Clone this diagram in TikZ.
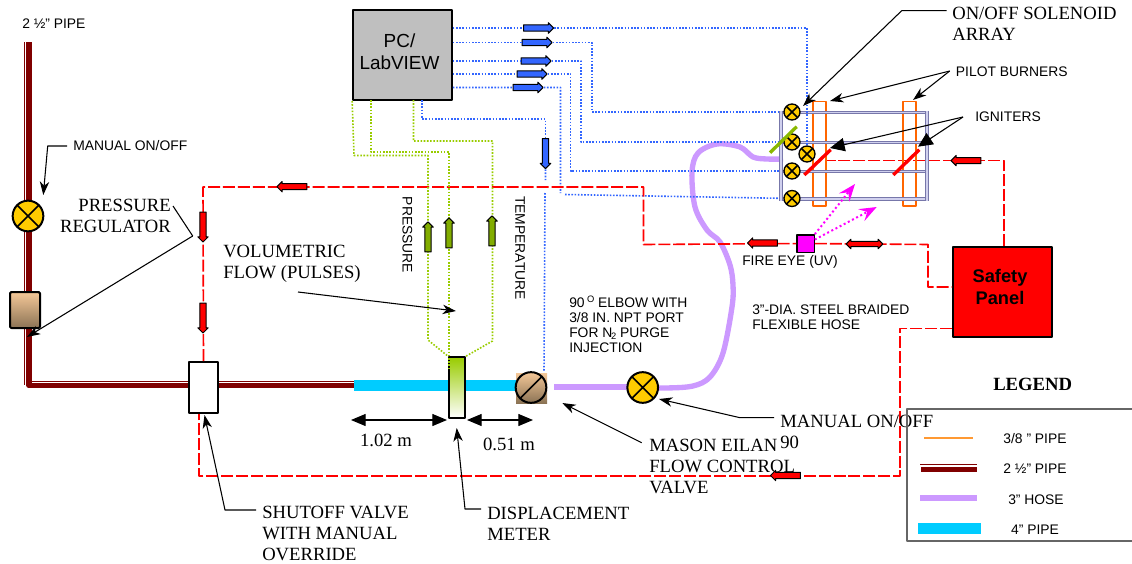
\documentclass[tikz,border=0pt]{standalone}
\usepackage{fontspec}
\setmainfont{Liberation Serif}
\setsansfont{Liberation Sans}
\usetikzlibrary{arrows.meta,shapes.arrows}
\definecolor{pipered}{HTML}{800000}
\definecolor{pipecyan}{HTML}{00CCFF}
\definecolor{hosepurple}{HTML}{CC99FF}
\definecolor{valveyellow}{HTML}{FFCC00}
\definecolor{wireblue}{HTML}{3366FF}
\definecolor{wiregreen}{HTML}{99CC00}
\definecolor{railblue}{HTML}{7777AA}
\definecolor{railin}{HTML}{D0D0EE}
\definecolor{tanlight}{HTML}{F5C898}
\definecolor{tandark}{HTML}{8B7355}
\definecolor{burnerorange}{HTML}{FF6600}
\definecolor{legendorange}{HTML}{FF9933}
\definecolor{eyepink}{HTML}{FF00FF}
\tikzset{
	seriflbl/.style={inner sep=0,font=\rmfamily\fontsize{14}{15.75}\selectfont,align=left},
	sanslbl/.style={inner sep=0,font=\sffamily\fontsize{10.4}{11.25}\selectfont,align=left},
	valve/.style={circle,draw=black,line width=1.5pt,fill=valveyellow,minimum size=23pt,inner sep=0,
		path picture={\draw[line width=1.2pt] (path picture bounding box.north west)--(path picture bounding box.south east) (path picture bounding box.north east)--(path picture bounding box.south west);}},
	solenoid/.style={valve,minimum size=12pt,line width=1pt},
	blockarrow/.style={single arrow,draw=black,line width=.75pt,minimum height=22.5pt,inner sep=0,inner ysep=2pt,single arrow head extend=1.6pt},
	redarrow/.style={blockarrow,fill=red,inner ysep=1.9pt},
	bluearrow/.style={blockarrow,fill=wireblue},
	greenarrow/.style={blockarrow,fill=wiregreen!85!black,rotate=90},
	redline/.style={draw=red,line width=1.2pt,dash pattern=on 9pt off 2.2pt},
	bluewire/.style={draw=wireblue,line width=1.2pt,dash pattern=on 1.2pt off 1.2pt},
	greenwire/.style={draw=wiregreen,line width=1.2pt,dash pattern=on 1.2pt off 1.2pt},
	leader/.style={draw=black,line width=.8pt,-{Stealth[length=10pt,width=7pt,inset=3pt]}},
	bigleader/.style={draw=black,line width=.8pt,-{Stealth[length=11pt,width=10pt,inset=0pt]}},
	dimline/.style={draw=black,line width=.9pt,{Stealth[length=11pt,width=9pt,inset=0pt]}-{Stealth[length=11pt,width=9pt,inset=0pt]}},
	pinkray/.style={draw=eyepink,line width=1.5pt,dash pattern=on 1.5pt off 2pt,-{Stealth[length=13pt,width=10pt,inset=5pt,sep=0pt]}},
	hose/.style={draw=hosepurple,line width=4pt},
	rail/.style={draw=railblue,line width=.8pt,double=railin,double distance=1pt},
	burner/.style={draw=burnerorange,line width=1.2pt}
}
\begin{document}
\begin{tikzpicture}[x=0.75pt,y=-0.75pt,line join=round]
	\useasboundingbox (0,0) rectangle (1132,564);
	
	%places of the valves
	\coordinate (solA) at (792,112);
	\coordinate (solB) at (792,142);
	\coordinate (solC) at (807,154);
	\coordinate (solD) at (792,171);
	\coordinate (solE) at (792,198.5);
	
	%pc and panel
	\node[draw=black,line width=1.5pt,fill=black!25,minimum width=74pt,minimum height=67.5pt,inner sep=0] (pc) at (402.5,55) {};
	\node[inner sep=0,font=\sffamily\fontsize{14.2}{16.5}\selectfont,align=center] (pclbl) at (399.5,52) {PC/\\LabVIEW};
	\node[draw=black,line width=1.5pt,fill=red,minimum width=74pt,minimum height=67.5pt,inner sep=0] (panel) at (1002.5,292) {};
	\node[inner sep=0,font=\sffamily\bfseries\fontsize{13.7}{16.5}\selectfont,align=center] (panellbl) at (1000,287) {Safety\\Panel};
	
	%2 1/2 pipe
	\path[draw=pipered,line width=.7pt] (24.5,42)--(24.5,385) (27,381.5)--(355,381.5);
	\path[draw=pipered,line width=3.8pt] (29,42)--(29,385.7)--(355,385.7);
	
	%4 in pipe
	\path[draw=pipecyan,line width=8pt] (354,385.5)--(517,385.5);
	
	%hose
	\path[hose] (554,387)--(642,387);
	\path[hose] plot[smooth,tension=.55] coordinates {(642,387) (665,388) (693,386) (710,377) (723,353) (732,307) (733,285) (730,265) (720,242) (707,230) (695,207) (692,172) (698,153) (717,144) (740,147) (753,157) (767,159) (783,159)};
	
	%valves on the line
	\node[valve] (manvalve) at (28,216) {};
	\node[draw=black,line width=1.5pt,top color=tanlight,bottom color=tandark,rounded corners=1pt,minimum width=22.5pt,minimum height=27pt,inner sep=0] (regulator) at (25,310) {};
	\node[draw=black,line width=1.5pt,fill=white,minimum width=22pt,minimum height=38pt,inner sep=0] (shutoff) at (203.5,387.5) {};
	\node[draw=black,line width=1.5pt,top color=wiregreen,bottom color=white,minimum width=12pt,minimum height=45.5pt,inner sep=0] (meter) at (457,387.5) {};
	\path[top color=tanlight,bottom color=tandark] (516,373) rectangle (547,403);
	\node[circle,draw=black,line width=1.5pt,top color=tanlight,bottom color=tandark,minimum size=23pt,inner sep=0,
		path picture={\draw[line width=1.2pt] (path picture bounding box.south west)--(path picture bounding box.north east);}] (flowvalve) at (531,387.5) {};
	\node[valve] (mainvalve) at (642.7,387.5) {};
	
	%blue lines from the pc
	\node[bluearrow] (baA) at (537,28) {};
	\node[bluearrow] (baB) at (535.5,42.5) {};
	\node[bluearrow] (baC) at (534.5,61) {};
	\node[bluearrow] (baD) at (530.5,74) {};
	\node[bluearrow] (baE) at (526.5,87.5) {};
	\node[bluearrow,rotate=-90] (baF) at (545.5,152) {};
	\path[bluewire] (pc.east |- baB)--(baB)-|(592,112)--(solA);
	\path[bluewire] (pc.east |- baC)--(baC)-|(581,142)--(solB);
	\path[bluewire] (pc.east |- baD)--(baD)-|(570.5,171)--(solD);
	\path[bluewire] (pc.east |- baE)--(baE)-|(560.5,193) (565,194.5)--(solE);
	\path[bluewire] (422,100)|-(baF.east |- 0,119)--(baF);
	\path[bluewire] (baF)--(545.5,180) (545,193)--(544,372);
	
	%red line
	\node[draw=black,line width=1pt,fill=eyepink,minimum size=13pt,inner sep=0] (fireeye) at (805.5,243.5) {};
	\path[redline] (shutoff.north)--(203,187)--(643.5,187)--(643.5,244.5)--(fireeye);
	\path[redline] (fireeye)--(928,244.5)--(928,287)--(panel.west |- 0,287);
	\path[redline] (panel.north -| 1004,0)--(1004,160.6)--(825,160.6);
	\path[redline] (panel.west |- 0,328.5)--(900,328.5)--(900,475.7)--(199,475.7)--(shutoff.south -| 199,0);
	\node[redarrow,rotate=180] (raA) at (293.5,186.7) {};
	\node[redarrow,rotate=-90] (raB) at (203,225.5) {};
	\node[redarrow,rotate=-90] (raC) at (203,316.5) {};
	\node[redarrow,rotate=180] (raD) at (764,243) {};
	\node[double arrow,draw=black,line width=.75pt,fill=red,minimum height=27.5pt,inner sep=0,inner ysep=1.6pt,double arrow head extend=1.6pt] (raE) at (864.5,244) {};
	\node[redarrow,rotate=180] (raF) at (967.5,160.6) {};
	\node[redarrow,rotate=180] (raG) at (787,475.5) {};
	
	%green lines
	\path[greenwire] (pc.south west)--(354,155.5)--(428,155.5)--(428,340)--(meter.north west);
	\path[greenwire] (371,100)--(371,152)--(449,152)--(449,368);
	\path[greenwire] (413.5,100)--(413.5,141)--(492.5,141)--(492.5,341)--(meter.north east);
	\node[greenarrow] (gaA) at (428,238.5) {};
	\node[greenarrow] (gaB) at (449,234.5) {};
	\node[greenarrow] (gaC) at (492,232.5) {};
	
	%burner frame
	\path[burner] (813,101.6) rectangle (826,206);
	\path[burner] (903,101.6) rectangle (915.7,206);
	\path[rail] (781,112.6)--(927,112.6);
	\path[rail] (781,142.5)--(927,142.5);
	\path[rail] (781,171.3)--(927,171.3);
	\path[rail] (781,199)--(927,199);
	\path[rail] (781,110.5)--(781,200.5);
	\path[rail] (927,110.5)--(927,200.5);
	\path[bluewire] (pc.east |- baA)--(baA)-|(solC);
	\node[solenoid] (valveA) at (solA) {};
	\node[solenoid] (valveB) at (solB) {};
	\node[solenoid] (valveD) at (solD) {};
	\node[solenoid] (valveE) at (solE) {};
	\node[solenoid] (valveC) at (solC) {};
	\path[draw=wiregreen!90!black,line width=2.5pt] (770,152.7)--(796.7,126.7);
	\path[draw=red,line width=2.5pt] (804.3,175)--(830.7,149.7);
	\path[draw=red,line width=2.5pt] (893.3,175)--(919.3,149.7);
	
	%fire eye rays
	\coordinate (rayA) at (855,184);
	\coordinate (rayB) at (876.7,207);
	\path[pinkray] (fireeye.north east)--(rayA);
	\path[pinkray] (fireeye.east)++(0,-4)--(rayB);
	
	%dimensions
	\coordinate (dimA) at (351,420);
	\coordinate (dimB) at (447,420);
	\coordinate (dimC) at (467,420);
	\coordinate (dimD) at (533,420);
	\path[dimline] (dimA)--(dimB);
	\path[dimline] (dimC)--(dimD);
	\node[seriflbl] (dimlblA) at (386,440) {1.02 m};
	\node[seriflbl] (dimlblB) at (509,444) {0.51 m};
	
	%labels
	\node[sanslbl,anchor=west] (toppipe) at (22,24) {2 ½” PIPE};
	\node[sanslbl,anchor=west] (lblman) at (73,146) {MANUAL ON/OFF};
	\node[seriflbl,anchor=east,align=right] (lblreg) at (171,215.5) {PRESSURE\\REGULATOR};
	\node[seriflbl,anchor=west] (lblvol) at (223,263.5) {VOLUMETRIC\\FLOW (PULSES)};
	\node[sanslbl,rotate=-90] (lblpress) at (407.5,235) {PRESSURE};
	\node[sanslbl,rotate=-90] (lbltemp) at (520,248) {TEMPERATURE};
	\node[sanslbl,anchor=west] (lblelbow) at (569,324.5) {90\,\raisebox{3.5pt}{\fontsize{7}{7}\selectfont O} ELBOW WITH\\3/8 IN. NPT PORT\\FOR N\kern-1pt\raisebox{-1.5pt}{\fontsize{7}{7}\selectfont 2} PURGE\\INJECTION};
	\node[sanslbl,anchor=west] (lblhose) at (752,317.5) {3”-DIA. STEEL BRAIDED\\FLEXIBLE HOSE};
	\node[sanslbl,anchor=west] (lbleye) at (742,262) {FIRE EYE (UV)};
	\node[seriflbl,anchor=west] (lblsol) at (952,24) {ON/OFF SOLENOID\\ARRAY};
	\node[sanslbl,anchor=west] (lblpilot) at (955.7,72) {PILOT BURNERS};
	\node[sanslbl,anchor=west] (lblign) at (975,117) {IGNITERS};
	\node[seriflbl,anchor=west] (lblshut) at (262,533.5) {SHUTOFF VALVE\\WITH MANUAL\\OVERRIDE};
	\node[seriflbl,anchor=west] (lbldisp) at (487,523.5) {DISPLACEMENT\\METER};
	\node[seriflbl,anchor=west] (lblmason) at (649,466) {MASON EILAN\\FLOW CONTROL\\VALVE};
	\node[seriflbl,anchor=west] (lblmain) at (780,421.7) {MANUAL ON/OFF};
	\node[seriflbl,anchor=west] (lblninety) at (780,442) {90};
	
	%leaders
	\path[leader] (lblman.west)++(-6,0)--(47.7,146)--(43.3,195);
	\path[draw=black,line width=.8pt] (lblreg.east)++(2,-9.5)--(192.7,236);
	\path[leader] (192.7,236)--(27,337);
	\path[leader] (298,292)--(456,311);
	\path[leader] (946.7,10.7)--(901.7,10.7)--(803,106);
	\path[leader] (lblpilot.west)++(-6,-1)--(830,101);
	\path[leader] (lblpilot.west)++(-6,-1)--(913,100);
	\path[bigleader] (lblign.west)++(-12,0)--(830,148);
	\path[bigleader] (lblign.west)++(-12,0)--(918,146.7);
	\path[leader] (lblshut.west)++(-6,-23.5)--(225,510)--(204.5,415);
	\path[leader] (lbldisp.west)++(-6,-14.5)--(465,509)--(456.7,428);
	\path[leader] (641.7,442.7)--(562.3,403);
	\path[leader] (lblmain.west)++(-6,-4)--(740,417.7)--(659,399);
	
	%legend
	\node[inner sep=0,font=\rmfamily\bfseries\fontsize{14}{16}\selectfont] (legendttl) at (1032.7,384) {LEGEND};
	\path[draw=black!60,line width=1.2pt] (1132,409)--(906.7,409)--(906.7,540.7)--(1132,540.7);
	\path[draw=legendorange,line width=1.2pt] (924,437.7)--(973,437.7);
	\path[draw=pipered,line width=.7pt] (920,464.7)--(976.7,464.7);
	\path[draw=pipered,line width=3.7pt] (921,469.3)--(977,469.3);
	\path[hose,line width=4.5pt] (920,498)--(977,498);
	\path[draw=pipecyan,line width=8.2pt] (918,528.3)--(981,528.3);
	\node[sanslbl] (legA) at (1035,439) {3/8 ” PIPE};
	\node[sanslbl] (legB) at (1035,469) {2 ½” PIPE};
	\node[sanslbl] (legC) at (1036,500) {3” HOSE};
	\node[sanslbl] (legD) at (1035,530) {4” PIPE};
\end{tikzpicture}
\end{document}
